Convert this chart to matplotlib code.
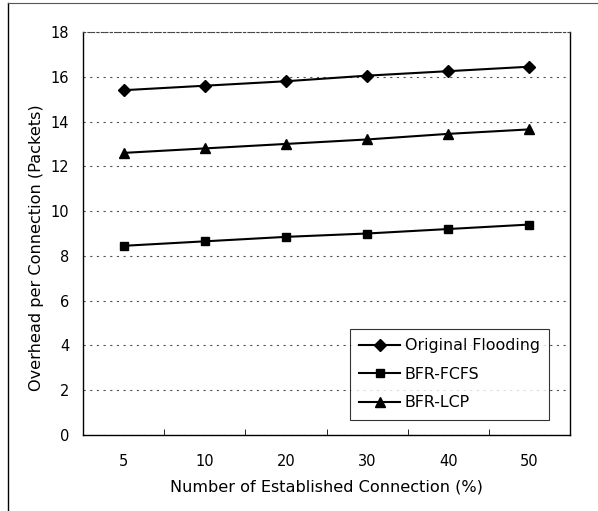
import matplotlib.pyplot as plt
import numpy as np
from matplotlib.lines import Line2D

plt.rcParams["font.family"] = ["DejaVu Sans"]

connections = ["5", "10", "20", "30", "40", "50"]
original_flooding = [15.4, 15.6, 15.8, 16.05, 16.25, 16.45]
bfr_fcfs = [8.45, 8.65, 8.85, 9.0, 9.2, 9.4]
bfr_lcp = [12.6, 12.8, 13.0, 13.2, 13.45, 13.65]

fig = plt.figure(figsize=(5.98, 5.11), dpi=100)
ax = fig.add_axes([0.1388, 0.1487, 0.8144, 0.7887])

x = np.arange(len(connections))
ax.plot(x, original_flooding, color="black", lw=1.5, marker="D", ms=6, label="Original Flooding")
ax.plot(x, bfr_fcfs, color="black", lw=1.5, marker="s", ms=6, label="BFR-FCFS")
ax.plot(x, bfr_lcp, color="black", lw=1.5, marker="^", ms=7, label="BFR-LCP")

ax.set_xlim(-0.5, len(connections) - 0.5)
ax.set_ylim(0, 18)
ax.set_yticks(np.arange(0, 19, 2))
ax.set_xticks(x)
ax.set_xticklabels(connections)
ax.set_xticks(np.arange(0.5, len(connections) - 1, 1), minor=True)
ax.tick_params(axis="x", which="major", length=0, pad=14, labelsize=10.5)
ax.tick_params(axis="x", which="minor", length=4, direction="in")
ax.tick_params(axis="y", length=0, pad=10, labelsize=10.5)

ax.yaxis.grid(True, linestyle=(0, (2, 4)), color="#555555", lw=0.8)
ax.set_axisbelow(True)
ax.spines["top"].set_linestyle((0, (2, 2)))
ax.spines["top"].set_color("#444444")
ax.spines["top"].set_linewidth(0.8)
for side in ["left", "bottom", "right"]:
    ax.spines[side].set_linewidth(1.0)

ax.set_xlabel("Number of Established Connection (%)", fontsize=11.6, labelpad=7)
ax.set_ylabel("Overhead per Connection (Packets)", fontsize=11.6)
ax.yaxis.set_label_coords(-0.08, 0.466)

leg = ax.legend(loc="lower right", bbox_to_anchor=(0.974, 0.018), fontsize=11.4,
                frameon=True, fancybox=False, edgecolor="black", handlelength=2.6,
                labelspacing=0.85, borderpad=0.6, handletextpad=0.3)
leg.get_frame().set_linewidth(0.8)

# page edge lines on the left and top
fig.add_artist(Line2D([0.014, 0.014], [0.0, 0.994], transform=fig.transFigure,
                      color="black", lw=1.0))
fig.add_artist(Line2D([0.014, 1.0], [0.994, 0.994], transform=fig.transFigure,
                      color="#555555", lw=0.8))

fig.savefig("out.png", dpi=100)
